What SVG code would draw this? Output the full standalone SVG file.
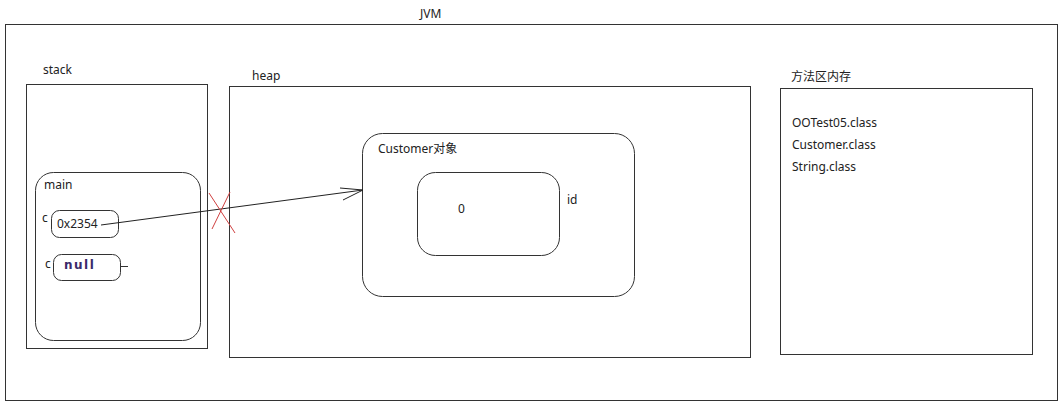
<svg xmlns="http://www.w3.org/2000/svg" width="1063" height="407" viewBox="0 0 1063 407">
<style>
text{font-family:"Noto Sans","Noto Sans CJK SC",sans-serif;font-size:12px;fill:#222}
.box{fill:none;stroke:#333;stroke-width:1}
.cx{stroke:#d04040;stroke-width:1;fill:none}
.ln{stroke:#222;stroke-width:1;fill:none}
</style>
<rect width="1063" height="407" fill="#fff"/>
<g id="jvm">
<rect class="box" x="5.5" y="24.5" width="1052" height="376"/>
<text x="420" y="18">JVM</text>
</g>
<g id="stack">
<rect class="box" x="26.5" y="84.5" width="181" height="264"/>
<text x="43" y="74">stack</text>
</g>
<g id="main">
<rect class="box" x="35.5" y="172.5" width="165" height="168" rx="18"/>
<text x="44" y="189">main</text>
</g>
<g id="var-c1">
<text x="42" y="222">c</text>
<rect class="box" x="51.5" y="210.5" width="67" height="27" rx="8"/>
<text x="57" y="228">0x2354</text>
</g>
<g id="var-c2">
<text x="45" y="268">c</text>
<rect class="box" x="53.5" y="254.5" width="67" height="26" rx="8"/>
<text x="64" y="269" style="font-family:'DejaVu Sans',sans-serif;font-size:12px;font-weight:bold;fill:#3a2a6a;letter-spacing:1.5px">null</text>
<line x1="121" y1="266.5" x2="128" y2="266.5" stroke="#333"/>
</g>
<g id="heap">
<rect class="box" x="229.5" y="86.5" width="521" height="271"/>
<text x="252" y="80">heap</text>
</g>
<g id="customer">
<rect class="box" x="362.5" y="133.5" width="272" height="163" rx="20"/>
<text x="378" y="153">Customer对象</text>
</g>
<g id="id-field">
<rect class="box" x="417.5" y="172.5" width="142" height="83" rx="18"/>
<text x="458" y="213">0</text>
<text x="567" y="204">id</text>
</g>
<g id="method-area">
<rect class="box" x="780.5" y="88.5" width="252" height="266"/>
<text x="791" y="81">方法区内存</text>
<text x="792" y="127">OOTest05.class</text>
<text x="792" y="149">Customer.class</text>
<text x="792" y="171">String.class</text>
</g>
<g id="connectors">
<line class="ln" x1="101" y1="225" x2="363" y2="190"/>
<path class="ln" d="M340,188 L363,190 L343,200"/>
<line class="cx" x1="209" y1="193" x2="235" y2="233"/>
<line class="cx" x1="230" y1="192" x2="212" y2="229"/>
</g>
</svg>
